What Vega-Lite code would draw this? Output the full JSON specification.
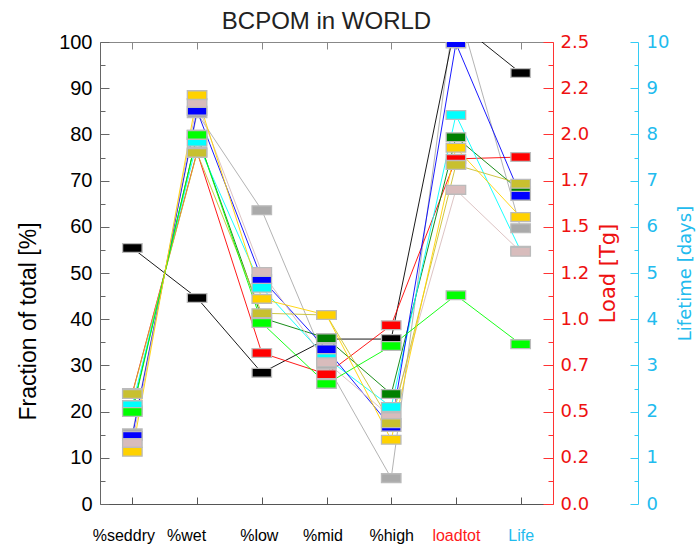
{
  "$schema": "https://vega.github.io/schema/vega-lite/v6.json",
  "width": 453,
  "height": 462,
  "autosize": {"type": "none"},
  "padding": {"left": 100, "top": 42, "right": 146, "bottom": 41},
  "background": "#ffffff",
  "title": {"text": "BCPOM in WORLD", "fontSize": 24, "font": "Liberation Sans", "fontWeight": "normal", "color": "#222222", "offset": -2, "anchor": "middle"},
  "config": {"view": {"stroke": null}, "axis": {"grid": false, "labelOverlap": false, "labelFlush": false, "labelBound": false}},
  "data": {"values": [
    {"m": "model1", "c": "%seddry", "v": 15.3}, {"m": "model1", "c": "%wet", "v": 84.6}, {"m": "model1", "c": "%low", "v": 63.6}, {"m": "model1", "c": "%mid", "v": 30.3}, {"m": "model1", "c": "%high", "v": 5.6}, {"m": "model1", "c": "loadtot", "v": 109}, {"m": "model1", "c": "Life", "v": 59.7},
    {"m": "model2", "c": "%seddry", "v": 55.4}, {"m": "model2", "c": "%wet", "v": 44.6}, {"m": "model2", "c": "%low", "v": 28.4}, {"m": "model2", "c": "%mid", "v": 35.7}, {"m": "model2", "c": "%high", "v": 35.7}, {"m": "model2", "c": "loadtot", "v": 104.5}, {"m": "model2", "c": "Life", "v": 93.3},
    {"m": "model3", "c": "%seddry", "v": 24.0}, {"m": "model3", "c": "%wet", "v": 76.2}, {"m": "model3", "c": "%low", "v": 32.7}, {"m": "model3", "c": "%mid", "v": 28.1}, {"m": "model3", "c": "%high", "v": 38.7}, {"m": "model3", "c": "loadtot", "v": 74.7}, {"m": "model3", "c": "Life", "v": 75.1},
    {"m": "model4", "c": "%seddry", "v": 20.3}, {"m": "model4", "c": "%wet", "v": 79.9}, {"m": "model4", "c": "%low", "v": 40.3}, {"m": "model4", "c": "%mid", "v": 35.9}, {"m": "model4", "c": "%high", "v": 23.8}, {"m": "model4", "c": "loadtot", "v": 79.4}, {"m": "model4", "c": "Life", "v": 67.7},
    {"m": "model5", "c": "%seddry", "v": 21.4}, {"m": "model5", "c": "%wet", "v": 78.4}, {"m": "model5", "c": "%low", "v": 46.8}, {"m": "model5", "c": "%mid", "v": 31.6}, {"m": "model5", "c": "%high", "v": 21.0}, {"m": "model5", "c": "loadtot", "v": 84.2}, {"m": "model5", "c": "Life", "v": 54.8},
    {"m": "model6", "c": "%seddry", "v": 14.7}, {"m": "model6", "c": "%wet", "v": 85.1}, {"m": "model6", "c": "%low", "v": 48.7}, {"m": "model6", "c": "%mid", "v": 33.5}, {"m": "model6", "c": "%high", "v": 16.7}, {"m": "model6", "c": "loadtot", "v": 99.7}, {"m": "model6", "c": "Life", "v": 66.7},
    {"m": "model7", "c": "%seddry", "v": 13.2}, {"m": "model7", "c": "%wet", "v": 86.8}, {"m": "model7", "c": "%low", "v": 50.2}, {"m": "model7", "c": "%mid", "v": 30.7}, {"m": "model7", "c": "%high", "v": 18.8}, {"m": "model7", "c": "loadtot", "v": 68.0}, {"m": "model7", "c": "Life", "v": 54.6},
    {"m": "model8", "c": "%seddry", "v": 23.8}, {"m": "model8", "c": "%wet", "v": 76.0}, {"m": "model8", "c": "%low", "v": 41.3}, {"m": "model8", "c": "%mid", "v": 40.9}, {"m": "model8", "c": "%high", "v": 17.5}, {"m": "model8", "c": "loadtot", "v": 73.4}, {"m": "model8", "c": "Life", "v": 69.3},
    {"m": "model9", "c": "%seddry", "v": 19.9}, {"m": "model9", "c": "%wet", "v": 79.9}, {"m": "model9", "c": "%low", "v": 39.2}, {"m": "model9", "c": "%mid", "v": 26.0}, {"m": "model9", "c": "%high", "v": 34.2}, {"m": "model9", "c": "loadtot", "v": 45.2}, {"m": "model9", "c": "Life", "v": 34.6},
    {"m": "model10", "c": "%seddry", "v": 11.3}, {"m": "model10", "c": "%wet", "v": 88.5}, {"m": "model10", "c": "%low", "v": 44.4}, {"m": "model10", "c": "%mid", "v": 40.9}, {"m": "model10", "c": "%high", "v": 13.9}, {"m": "model10", "c": "loadtot", "v": 77.1}, {"m": "model10", "c": "Life", "v": 62.1}
  ]},
  "layer": [
    {
      "mark": {"type": "line", "clip": true, "strokeWidth": 0.9},
      "encoding": {
        "x": {"field": "c", "type": "ordinal", "sort": ["%seddry", "%wet", "%low", "%mid", "%high", "loadtot", "Life"], "scale": {"type": "point", "padding": 0.5},
          "axis": {"orient": "bottom", "title": null, "labelAngle": 0, "tickSize": -7, "labelPadding": 30, "labelFont": "Liberation Sans", "labelFontSize": 16, "domainColor": "#555555", "tickColor": "#555555",
            "labelOffset": {"condition": [{"test": "datum.value === '%seddry'", "value": -9}, {"test": "datum.value === '%wet'", "value": -11}, {"test": "datum.value === '%low'", "value": -3}, {"test": "datum.value === '%mid'", "value": -4}], "value": 0},
            "labelColor": {"condition": [{"test": "datum.value === 'loadtot'", "value": "#ff1a1a"}, {"test": "datum.value === 'Life'", "value": "#22bbee"}], "value": "#000000"}}},
        "y": {"field": "v", "type": "quantitative", "scale": {"domain": [0, 100], "nice": false},
          "axis": {"orient": "left", "values": [0, 10, 20, 30, 40, 50, 60, 70, 80, 90, 100], "tickSize": -9, "labelPadding": 17, "labelFont": "Liberation Sans", "labelFontSize": 20, "labelColor": "#000000", "domainColor": "#666666", "tickColor": "#666666",
            "title": "Fraction of total [%]", "titleFont": "Liberation Sans", "titleFontSize": 23, "titleFontWeight": "normal", "titleColor": "#000000", "titleAngle": 270, "titleX": -72, "titleY": 279, "titleAlign": "center", "titleBaseline": "middle"}},
        "color": {"field": "m", "type": "nominal", "legend": null,
          "scale": {"domain": ["model1", "model2", "model3", "model4", "model5", "model6", "model7", "model8", "model9", "model10"],
                    "range": ["#aaaaaa", "#000000", "#ff0000", "#008000", "#00ffff", "#0000ff", "#d8bcbc", "#c8c030", "#00ff00", "#ffd200"]}},
        "order": {"value": null}
      }
    },
    {
      "mark": {"type": "point", "shape": "M-1,-0.45L1,-0.45L1,0.45L-1,0.45Z", "size": 380, "filled": true, "opacity": 1, "stroke": "#bbbbbb", "strokeWidth": 1.3, "clip": true},
      "encoding": {
        "x": {"field": "c", "type": "ordinal", "sort": ["%seddry", "%wet", "%low", "%mid", "%high", "loadtot", "Life"], "scale": {"type": "point", "padding": 0.5},
          "axis": {"orient": "top", "title": null, "labels": false, "tickSize": -7, "domainColor": "#888888", "tickColor": "#888888"}},
        "y": {"field": "v", "type": "quantitative", "scale": {"domain": [0, 100], "nice": false}, "axis": null},
        "fill": {"field": "m", "type": "nominal", "legend": null,
          "scale": {"domain": ["model1", "model2", "model3", "model4", "model5", "model6", "model7", "model8", "model9", "model10"],
                    "range": ["#aaaaaa", "#000000", "#ff0000", "#008000", "#00ffff", "#0000ff", "#d8bcbc", "#c8c030", "#00ff00", "#ffd200"]}}
      }
    },
    {
      "data": {"values": [{"a": 0}]},
      "mark": {"type": "rule", "opacity": 0},
      "encoding": {"y": {"field": "a", "type": "quantitative", "scale": {"domain": [0, 100], "nice": false},
        "axis": {"orient": "left", "values": [5, 15, 25, 35, 45, 55, 65, 75, 85, 95], "tickSize": -5, "labels": false, "domain": false, "title": null, "tickColor": "#666666"}}}
    },
    {
      "data": {"values": [{"a": 0}]},
      "mark": {"type": "rule", "opacity": 0},
      "encoding": {"y": {"field": "a", "type": "quantitative", "scale": {"domain": [0, 2.5], "nice": false},
        "axis": {"orient": "right", "values": [0, 0.25, 0.5, 0.75, 1, 1.25, 1.5, 1.75, 2, 2.25, 2.5], "labelExpr": "format(floor(datum.value*10+0.001)/10, '.1f')", "tickSize": -10, "labelPadding": 17, "labelFont": "DejaVu Sans", "labelFontSize": 18, "labelColor": "#ee1111", "domainColor": "#ff3333", "tickColor": "#ff3333",
          "title": "Load [Tg]", "titleFont": "DejaVu Sans", "titleFontSize": 21, "titleFontWeight": "normal", "titleColor": "#ee1111", "titleAngle": 270, "titleX": 55, "titleY": 231, "titleAlign": "center", "titleBaseline": "middle"}}}
    },
    {
      "data": {"values": [{"a": 0}]},
      "mark": {"type": "rule", "opacity": 0},
      "encoding": {"y": {"field": "a", "type": "quantitative", "scale": {"domain": [0, 2.5], "nice": false},
        "axis": {"orient": "right", "values": [0.125, 0.375, 0.625, 0.875, 1.125, 1.375, 1.625, 1.875, 2.125, 2.375], "tickSize": -5, "labels": false, "domain": false, "title": null, "tickColor": "#ff3333"}}}
    },
    {
      "data": {"values": [{"a": 0}]},
      "mark": {"type": "rule", "opacity": 0},
      "encoding": {"y": {"field": "a", "type": "quantitative", "scale": {"domain": [0, 10], "nice": false},
        "axis": {"orient": "right", "offset": 85, "values": [0, 1, 2, 3, 4, 5, 6, 7, 8, 9, 10], "tickSize": -8, "labelPadding": 16, "labelFont": "DejaVu Sans", "labelFontSize": 18, "labelColor": "#22bbee", "domainColor": "#33ccf5", "tickColor": "#33ccf5",
          "title": "Lifetime [days]", "titleFont": "DejaVu Sans", "titleFontSize": 18, "titleFontWeight": "normal", "titleColor": "#22bbee", "titleAngle": 270, "titleX": 47, "titleY": 231, "titleAlign": "center", "titleBaseline": "middle"}}}
    },
    {
      "data": {"values": [{"a": 0}]},
      "mark": {"type": "rule", "opacity": 0},
      "encoding": {"y": {"field": "a", "type": "quantitative", "scale": {"domain": [0, 10], "nice": false},
        "axis": {"orient": "right", "offset": 85, "values": [0.5, 1.5, 2.5, 3.5, 4.5, 5.5, 6.5, 7.5, 8.5, 9.5], "tickSize": -4, "labels": false, "domain": false, "title": null, "tickColor": "#33ccf5"}}}
    }
  ],
  "resolve": {"scale": {"y": "independent"}, "axis": {"x": "independent"}}
}
